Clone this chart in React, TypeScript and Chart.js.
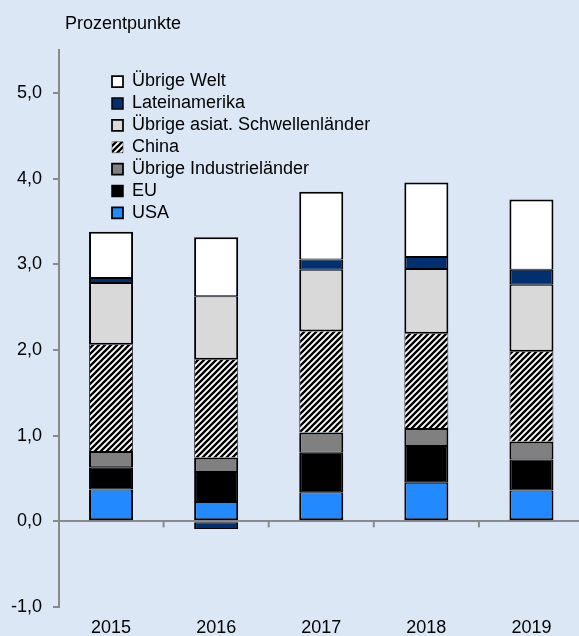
import React, { useEffect, useRef } from 'react';
import { Chart, registerables } from 'chart.js';

Chart.register(...registerables);

// ---- data ----
const years = ['2015', '2016', '2017', '2018', '2019'];
const usa = [0.37, 0.225, 0.34, 0.45, 0.36];
const eu = [0.26, 0.35, 0.46, 0.43, 0.36];
const industrie = [0.19, 0.17, 0.235, 0.21, 0.21];
const china = [1.24, 1.14, 1.18, 1.1, 1.05];
const asiat = [0.72, 0.74, 0.72, 0.755, 0.78];
const latein = [0.06, -0.09, 0.12, 0.14, 0.175];
const welt = [0.54, 0.69, 0.79, 0.87, 0.82];
const yTicks = [-1, 0, 1, 2, 3, 4, 5];

// ---- styles ----
const BG = '#dce7f6';
const AXIS = '#8a8a8a';
const FAMILY = '"Liberation Sans", Arial, Helvetica, sans-serif';
const FSIZE = 18;

function makeStripes(ctx: CanvasRenderingContext2D): CanvasPattern | string {
  const n = 6;
  const t = document.createElement('canvas');
  t.width = n;
  t.height = n;
  const g = t.getContext('2d');
  if (!g) return '#777';
  g.fillStyle = '#ffffff';
  g.fillRect(0, 0, n, n);
  g.strokeStyle = '#000000';
  g.lineWidth = 2.3;
  g.beginPath();
  g.moveTo(-2, 2);
  g.lineTo(2, -2);
  g.moveTo(-1, n + 1);
  g.lineTo(n + 1, -1);
  g.moveTo(n - 2, n + 2);
  g.lineTo(n + 2, n - 2);
  g.stroke();
  return ctx.createPattern(t, 'repeat') || '#777';
}

const layoutShift = {
  id: 'layoutShift',
  afterLayout(chart: any) {
    if (chart.titleBlock) {
      chart.titleBlock.left = 65;
    }
    if (chart.legend) {
      chart.legend.left = 108.1;
      chart.legend.top = 68.6;
    }
  },
};

const categoryTicks = {
  id: 'categoryTicks',
  afterDraw(chart: any) {
    const xs = chart.scales.x;
    const ys = chart.scales.y;
    const y0 = ys.getPixelForValue(0);
    const ctx = chart.ctx;
    ctx.save();
    ctx.strokeStyle = AXIS;
    ctx.lineWidth = 2;
    for (let i = 0; i < years.length - 1; i++) {
      const xm = (xs.getPixelForValue(i) + xs.getPixelForValue(i + 1)) / 2;
      ctx.beginPath();
      ctx.moveTo(xm, y0);
      ctx.lineTo(xm, y0 + 6);
      ctx.stroke();
    }
    ctx.restore();
  },
};

export default function App() {
  const ref = useRef<HTMLCanvasElement | null>(null);

  useEffect(() => {
    const canvas = ref.current;
    if (!canvas) return;
    const ctx = canvas.getContext('2d');
    if (!ctx) return;
    const stripes = makeStripes(ctx);

    const bw = (extra: any = {}) => ({ top: 1, bottom: 1, left: 2, right: 2, ...extra });

    const datasets = [
      { label: 'USA', data: usa, backgroundColor: '#2389ff', borderColor: '#000', borderWidth: bw({ bottom: 2 }) },
      { label: 'EU', data: eu, backgroundColor: '#000000', borderColor: '#000', borderWidth: bw() },
      { label: 'Übrige Industrieländer', data: industrie, backgroundColor: '#808080', borderColor: '#000', borderWidth: bw({ top: 2 }) },
      { label: 'China', data: china, backgroundColor: stripes, borderColor: '#333', borderWidth: { top: 0, bottom: 0, left: 1, right: 1 } },
      { label: 'Übrige asiat. Schwellenländer', data: asiat, backgroundColor: '#d9d9d9', borderColor: '#000', borderWidth: bw({ bottom: 2 }) },
      { label: 'Lateinamerika', data: latein, backgroundColor: '#003070', borderColor: '#000', borderWidth: bw() },
      { label: 'Übrige Welt', data: welt, backgroundColor: '#ffffff', borderColor: '#000', borderWidth: bw({ top: 2 }) },
    ].map((d) => ({
      ...d,
      borderSkipped: false,
      barPercentage: 0.419,
      categoryPercentage: 1,
    }));

    const font = { family: FAMILY, size: FSIZE };

    const chart = new Chart(canvas, {
      type: 'bar',
      data: { labels: years, datasets: datasets as any },
      plugins: [layoutShift, categoryTicks],
      options: {
        animation: false,
        responsive: false,
        maintainAspectRatio: false,
        layout: { padding: 0 },
        plugins: {
          title: {
            display: true,
            text: 'Prozentpunkte',
            align: 'start',
            color: '#000',
            font: { family: FAMILY, size: FSIZE, weight: 'normal' as any },
            padding: { top: 13.2, bottom: 15.2 },
          },
          legend: {
            display: true,
            position: 'chartArea' as any,
            align: 'start',
            reverse: true,
            labels: {
              boxWidth: 11,
              boxHeight: 11,
              padding: 3.9,
              color: '#000',
              font,
            },
          },
          tooltip: { enabled: false },
        },
        scales: {
          x: {
            stacked: true,
            offset: true,
            grid: { display: false, drawTicks: false },
            border: { display: false },
            afterFit: (s: any) => {
              s.height = 29;
            },
            ticks: { font, color: '#000', padding: 10.2, maxRotation: 0, autoSkip: false },
          },
          y: {
            stacked: true,
            min: -1,
            max: 5.5,
            z: 1,
            afterBuildTicks: (s: any) => {
              s.ticks = yTicks.map((v) => ({ value: v }));
            },
            afterFit: (s: any) => {
              s.width = 58.5;
            },
            ticks: {
              font,
              color: '#000',
              padding: 11,
              callback: (v: any) => Number(v).toFixed(1).replace('.', ','),
            },
            grid: {
              color: (c: any) => (c.tick && c.tick.value === 0 ? AXIS : 'rgba(0,0,0,0)'),
              lineWidth: 2,
              tickColor: AXIS,
              tickLength: 5.5,
              drawTicks: true,
            },
            border: { display: true, color: AXIS, width: 2 },
          },
        },
      } as any,
    });

    return () => chart.destroy();
  }, []);

  return (
    <div
      style={{
        position: 'fixed',
        left: 0,
        top: 0,
        width: 579,
        height: 636,
        overflow: 'hidden',
        background: BG,
      }}
    >
      <canvas ref={ref} width={584} height={636} style={{ display: 'block' }} />
    </div>
  );
}
